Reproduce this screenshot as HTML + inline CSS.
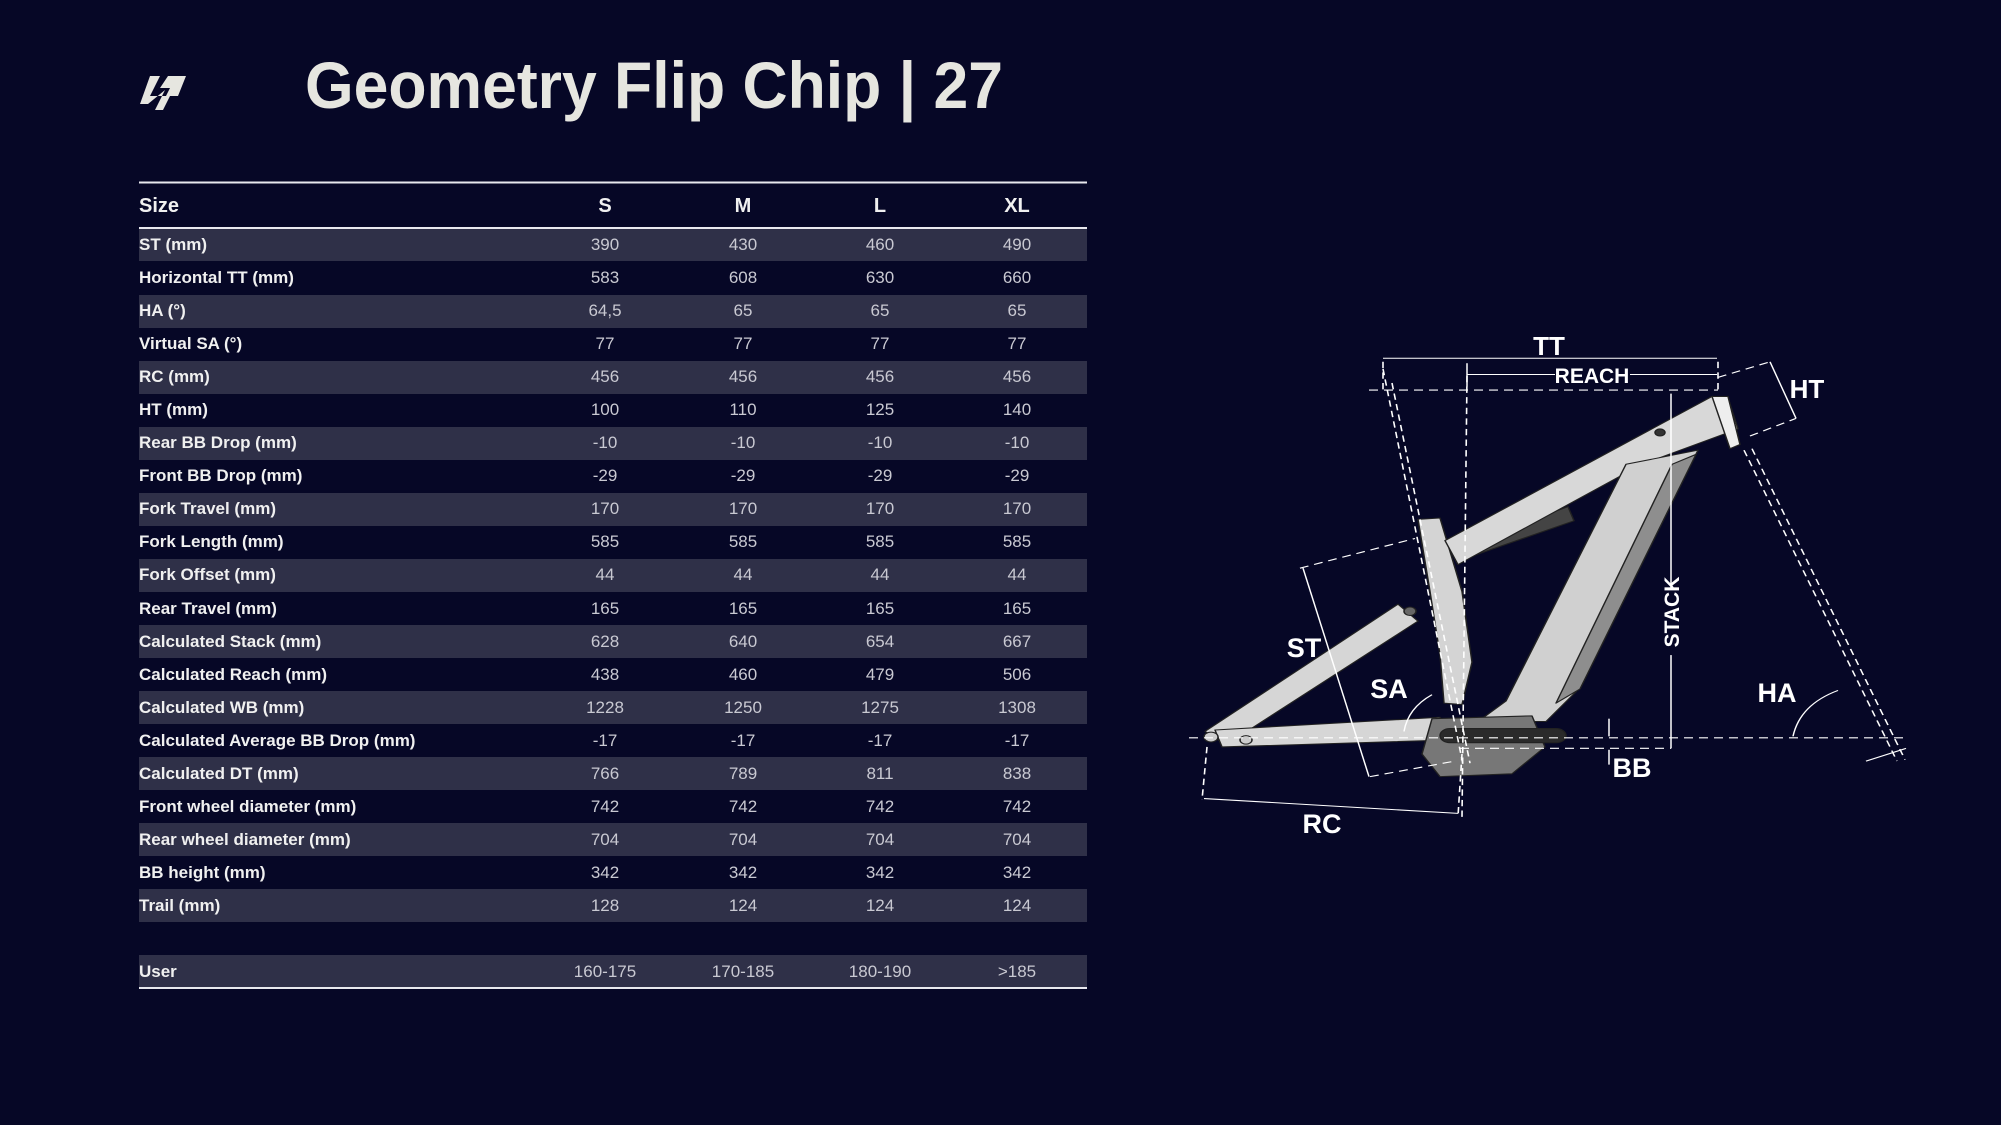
<!DOCTYPE html>
<html><head><meta charset="utf-8"><style>
html,body{margin:0;padding:0;background:#060726;}
svg{display:block;}
.l{font-family:"Liberation Sans Narrow","Liberation Sans",sans-serif;font-weight:bold;font-size:17px;fill:#f0f0f0;}
.v{font-family:"Liberation Sans Narrow","Liberation Sans",sans-serif;font-size:17px;fill:#c9c9d2;text-anchor:middle;}
.h{font-family:"Liberation Sans Narrow","Liberation Sans",sans-serif;font-weight:bold;font-size:20px;fill:#f0f0f0;}
.d{font-family:"Liberation Sans Narrow","Liberation Sans",sans-serif;font-weight:bold;fill:#fff;text-anchor:middle;}
</style></head><body>
<svg width="2001" height="1125" viewBox="0 0 2001 1125" xmlns="http://www.w3.org/2000/svg">
<rect width="2001" height="1125" fill="#060726"/>
<!-- logo -->
<path d="M150 76 L160 76 L150 96 L166 96 L170 88 L160 88 L168 76 L186 76 L178 96 L170 96 L163 110 L155 110 L165 90 L148 104 L140 104 Z" fill="#e6e6e0"/>
<text x="305" y="108" font-family="'Liberation Sans',sans-serif" font-weight="bold" font-size="66" fill="#e6e6e0" textLength="698" lengthAdjust="spacingAndGlyphs">Geometry Flip Chip | 27</text>
<!-- table -->
<line x1="139" y1="182.5" x2="1087" y2="182.5" stroke="#e8e8ee" stroke-width="2"/>
<text class="h" x="139" y="212">Size</text>
<g class="h"><text x="605" y="212" text-anchor="middle">S</text><text x="743" y="212" text-anchor="middle">M</text><text x="880" y="212" text-anchor="middle">L</text><text x="1017" y="212" text-anchor="middle">XL</text></g>
<line x1="139" y1="228" x2="1087" y2="228" stroke="#e8e8ee" stroke-width="2"/>
<g fill="#2f3048">
<rect x="139" y="229" width="948" height="32"/>
<rect x="139" y="295" width="948" height="33"/>
<rect x="139" y="361" width="948" height="33"/>
<rect x="139" y="427" width="948" height="33"/>
<rect x="139" y="493" width="948" height="33"/>
<rect x="139" y="559" width="948" height="33"/>
<rect x="139" y="625" width="948" height="33"/>
<rect x="139" y="691" width="948" height="33"/>
<rect x="139" y="757" width="948" height="33"/>
<rect x="139" y="823" width="948" height="33"/>
<rect x="139" y="889" width="948" height="33"/>
<rect x="139" y="955" width="948" height="32"/>
</g>
<line x1="139" y1="988" x2="1087" y2="988" stroke="#e8e8ee" stroke-width="2"/>
<g>
<text class="l" x="139" y="250">ST (mm)</text><text class="v" x="605" y="250">390</text><text class="v" x="743" y="250">430</text><text class="v" x="880" y="250">460</text><text class="v" x="1017" y="250">490</text>
<text class="l" x="139" y="283">Horizontal TT (mm)</text><text class="v" x="605" y="283">583</text><text class="v" x="743" y="283">608</text><text class="v" x="880" y="283">630</text><text class="v" x="1017" y="283">660</text>
<text class="l" x="139" y="316">HA (°)</text><text class="v" x="605" y="316">64,5</text><text class="v" x="743" y="316">65</text><text class="v" x="880" y="316">65</text><text class="v" x="1017" y="316">65</text>
<text class="l" x="139" y="349">Virtual SA (°)</text><text class="v" x="605" y="349">77</text><text class="v" x="743" y="349">77</text><text class="v" x="880" y="349">77</text><text class="v" x="1017" y="349">77</text>
<text class="l" x="139" y="382">RC (mm)</text><text class="v" x="605" y="382">456</text><text class="v" x="743" y="382">456</text><text class="v" x="880" y="382">456</text><text class="v" x="1017" y="382">456</text>
<text class="l" x="139" y="415">HT (mm)</text><text class="v" x="605" y="415">100</text><text class="v" x="743" y="415">110</text><text class="v" x="880" y="415">125</text><text class="v" x="1017" y="415">140</text>
<text class="l" x="139" y="448">Rear BB Drop (mm)</text><text class="v" x="605" y="448">-10</text><text class="v" x="743" y="448">-10</text><text class="v" x="880" y="448">-10</text><text class="v" x="1017" y="448">-10</text>
<text class="l" x="139" y="481">Front BB Drop (mm)</text><text class="v" x="605" y="481">-29</text><text class="v" x="743" y="481">-29</text><text class="v" x="880" y="481">-29</text><text class="v" x="1017" y="481">-29</text>
<text class="l" x="139" y="514">Fork Travel (mm)</text><text class="v" x="605" y="514">170</text><text class="v" x="743" y="514">170</text><text class="v" x="880" y="514">170</text><text class="v" x="1017" y="514">170</text>
<text class="l" x="139" y="547">Fork Length (mm)</text><text class="v" x="605" y="547">585</text><text class="v" x="743" y="547">585</text><text class="v" x="880" y="547">585</text><text class="v" x="1017" y="547">585</text>
<text class="l" x="139" y="580">Fork Offset (mm)</text><text class="v" x="605" y="580">44</text><text class="v" x="743" y="580">44</text><text class="v" x="880" y="580">44</text><text class="v" x="1017" y="580">44</text>
<text class="l" x="139" y="614">Rear Travel (mm)</text><text class="v" x="605" y="614">165</text><text class="v" x="743" y="614">165</text><text class="v" x="880" y="614">165</text><text class="v" x="1017" y="614">165</text>
<text class="l" x="139" y="647">Calculated Stack (mm)</text><text class="v" x="605" y="647">628</text><text class="v" x="743" y="647">640</text><text class="v" x="880" y="647">654</text><text class="v" x="1017" y="647">667</text>
<text class="l" x="139" y="680">Calculated Reach (mm)</text><text class="v" x="605" y="680">438</text><text class="v" x="743" y="680">460</text><text class="v" x="880" y="680">479</text><text class="v" x="1017" y="680">506</text>
<text class="l" x="139" y="713">Calculated WB (mm)</text><text class="v" x="605" y="713">1228</text><text class="v" x="743" y="713">1250</text><text class="v" x="880" y="713">1275</text><text class="v" x="1017" y="713">1308</text>
<text class="l" x="139" y="746">Calculated Average BB Drop (mm)</text><text class="v" x="605" y="746">-17</text><text class="v" x="743" y="746">-17</text><text class="v" x="880" y="746">-17</text><text class="v" x="1017" y="746">-17</text>
<text class="l" x="139" y="779">Calculated DT (mm)</text><text class="v" x="605" y="779">766</text><text class="v" x="743" y="779">789</text><text class="v" x="880" y="779">811</text><text class="v" x="1017" y="779">838</text>
<text class="l" x="139" y="812">Front wheel diameter (mm)</text><text class="v" x="605" y="812">742</text><text class="v" x="743" y="812">742</text><text class="v" x="880" y="812">742</text><text class="v" x="1017" y="812">742</text>
<text class="l" x="139" y="845">Rear wheel diameter (mm)</text><text class="v" x="605" y="845">704</text><text class="v" x="743" y="845">704</text><text class="v" x="880" y="845">704</text><text class="v" x="1017" y="845">704</text>
<text class="l" x="139" y="878">BB height (mm)</text><text class="v" x="605" y="878">342</text><text class="v" x="743" y="878">342</text><text class="v" x="880" y="878">342</text><text class="v" x="1017" y="878">342</text>
<text class="l" x="139" y="911">Trail (mm)</text><text class="v" x="605" y="911">128</text><text class="v" x="743" y="911">124</text><text class="v" x="880" y="911">124</text><text class="v" x="1017" y="911">124</text>
<text class="l" x="139" y="977">User</text><text class="v" x="605" y="977">160-175</text><text class="v" x="743" y="977">170-185</text><text class="v" x="880" y="977">180-190</text><text class="v" x="1017" y="977">&gt;185</text>
</g>
<!-- bike (y-compressed) -->
<g transform="translate(0,330) scale(1,0.7067) translate(0,-330)">
<g stroke="#222" stroke-width="1.5" stroke-linejoin="round" vector-effect="non-scaling-stroke">
<polygon points="1205,898 1398,718 1418,742 1226,917" fill="#d6d6d6"/>
<polygon points="1215,896 1440,878 1452,910 1222,920" fill="#d6d6d6"/>
<polygon points="1418,598 1440,596 1462,700 1472,800 1462,860 1444,858 1440,790 1430,700" fill="#d4d4d4"/>
<polygon points="1470,630 1568,580 1574,600 1476,648" fill="#444"/>
<polygon points="1445,628 1712,424 1728,426 1738,470 1642,520 1458,662" fill="#d8d8d8"/>
<polygon points="1626,520 1698,500 1576,842 1546,884 1478,884 1506,855" fill="#d0d0d0"/>
<polygon points="1672,520 1696,506 1580,838 1556,858" fill="#8e8e8e"/>
<polygon points="1712,424 1728,424 1740,492 1730,498" fill="#eee"/>
<polygon points="1432,880 1532,876 1545,920 1512,958 1440,962 1422,930" fill="#777"/>
<rect x="1440" y="894" width="126" height="20" rx="10" fill="#2a2a2a"/>
<circle cx="1211" cy="906" r="7" fill="#ccc"/>
<circle cx="1246" cy="910" r="6" fill="#ccc"/>
<circle cx="1410" cy="728" r="6" fill="#666"/>
<circle cx="1660" cy="475" r="5" fill="#333"/>
</g>
<g stroke="#fff" stroke-width="1.6" fill="none" stroke-dasharray="9,6">
<line x1="1369" y1="415" x2="1718" y2="415"/>
<line x1="1189" y1="907" x2="1907" y2="907"/>
<line x1="1460" y1="922" x2="1671" y2="922"/>
<line x1="1383" y1="385" x2="1463" y2="945"/>
<line x1="1392" y1="405" x2="1470" y2="943"/>
<line x1="1467" y1="395" x2="1462" y2="1020"/>
<line x1="1744" y1="500" x2="1897" y2="940"/>
<line x1="1752" y1="498" x2="1905" y2="938"/>
<line x1="1718" y1="397" x2="1770" y2="375"/>
<line x1="1750" y1="480" x2="1796" y2="455"/>
<line x1="1383" y1="375" x2="1383" y2="415"/>
<line x1="1718" y1="375" x2="1718" y2="415"/>
<line x1="1300" y1="667" x2="1415" y2="625"/>
<line x1="1370" y1="962" x2="1455" y2="940"/>
<line x1="1207" y1="920" x2="1202" y2="995"/>
<line x1="1462" y1="930" x2="1458" y2="1018"/>
</g>
<g stroke="#fff" stroke-width="1.5" fill="none">
<line x1="1383" y1="370" x2="1717" y2="370"/>
<line x1="1467" y1="377" x2="1467" y2="410"/>
<line x1="1467" y1="393" x2="1555" y2="393"/><line x1="1630" y1="393" x2="1717" y2="393"/>
<line x1="1671" y1="420" x2="1671" y2="695"/><line x1="1671" y1="790" x2="1671" y2="922"/>
<line x1="1770" y1="375" x2="1796" y2="455"/>
<line x1="1303" y1="667" x2="1369" y2="962"/>
<line x1="1204" y1="993" x2="1458" y2="1014"/>
<line x1="1609" y1="880" x2="1609" y2="905"/><line x1="1609" y1="924" x2="1609" y2="945"/>
<path d="M1793 905 Q1800 860 1838 840"/>
<path d="M1404 898 Q1408 865 1432 846"/>
<line x1="1866" y1="940" x2="1906" y2="922"/>
</g>
</g>
<g class="d">
<text x="1549" y="355" font-size="26">TT</text>
<text x="1592" y="383" font-size="21">REACH</text>
<text x="1807" y="398" font-size="26">HT</text>
<text x="1304" y="657" font-size="27">ST</text>
<text x="1389" y="698" font-size="27">SA</text>
<text x="1777" y="702" font-size="27">HA</text>
<text x="1632" y="777" font-size="27">BB</text>
<text x="1322" y="833" font-size="27">RC</text>
<text font-size="21" transform="translate(1679,612) rotate(-90)">STACK</text>
</g>
</svg>
</body></html>
